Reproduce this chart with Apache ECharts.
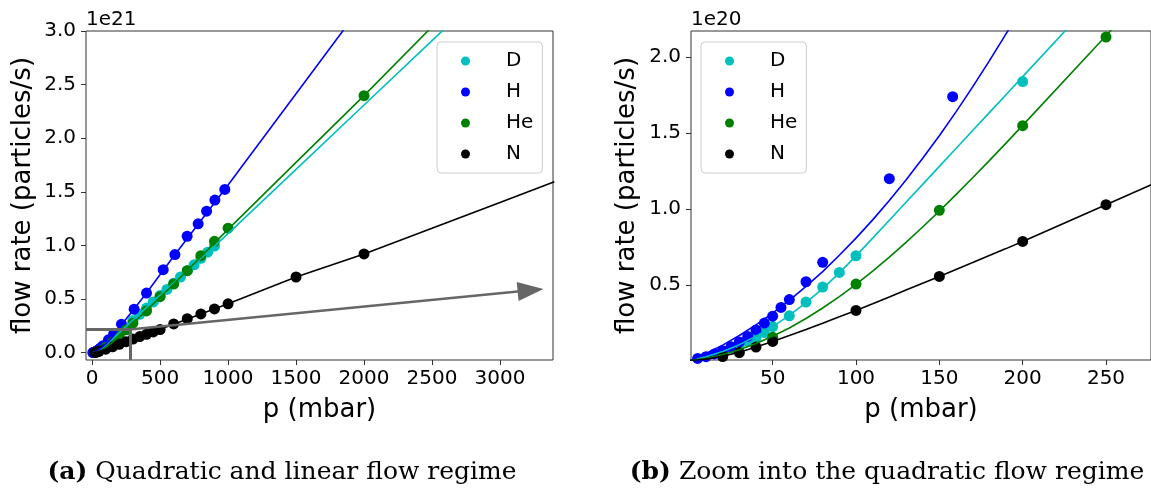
<!DOCTYPE html>
<html>
<head>
<meta charset="utf-8">
<style>
  html, body { margin: 0; padding: 0; background: #ffffff; }
  #chart { width: 1151px; height: 494px; }
</style>
<script src="https://cdn.jsdelivr.net/npm/echarts@6/dist/echarts.min.js"></script>
</head>
<body>
<div id="chart"></div>
<script>
// all flow rates below are in units of 1e20 particles/s, pressures in mbar
const FONT = 'DejaVu Sans';
const gases = ['D', 'H', 'He', 'N'];
const gasColors = ['#00bfbf', '#0000ff', '#008000', '#000000'];

// measured points
const pD = [20, 25, 30, 35, 40, 45, 50, 60, 70, 80, 90, 100, 200, 300, 350, 400, 450, 500, 550, 600, 650, 700, 750, 800, 850, 900];
const flowD = [0.061, 0.082, 0.104, 0.128, 0.149, 0.186, 0.225, 0.296, 0.386, 0.485, 0.581, 0.691, 1.837, 3.0, 3.58, 4.16, 4.74, 5.33, 5.9, 6.48, 7.06, 7.65, 8.2, 8.8, 9.37, 9.95];

const pH = [5, 10, 15, 20, 25, 30, 35, 40, 45, 50, 55, 60, 70, 80, 120, 158, 216, 309, 400, 523, 609, 699, 780, 842, 903, 976];
const flowH = [0.015, 0.027, 0.045, 0.066, 0.092, 0.124, 0.16, 0.203, 0.248, 0.293, 0.351, 0.403, 0.52, 0.648, 1.198, 1.738, 2.66, 4.06, 5.56, 7.74, 9.15, 10.86, 12.02, 13.2, 14.23, 15.23];

const pHe = [50, 100, 150, 200, 250, 300, 400, 500, 600, 700, 800, 900, 1000, 2000];
const flowHe = [0.155, 0.505, 0.99, 1.547, 2.13, 2.75, 3.9, 5.22, 6.4, 7.65, 9.05, 10.39, 11.61, 23.97];

const pN = [20, 30, 40, 50, 100, 150, 200, 250, 300, 350, 400, 450, 500, 600, 700, 800, 900, 1000, 1500, 2000];
const flowN = [0.028, 0.054, 0.09, 0.127, 0.331, 0.555, 0.785, 1.027, 1.27, 1.5, 1.72, 1.94, 2.16, 2.68, 3.17, 3.62, 4.08, 4.56, 7.06, 9.21];

// fitted curves
const fitP = [0, 10, 20, 30, 40, 50, 60, 70, 80, 90, 100, 110, 120, 130, 140, 150, 160, 170, 180, 190, 200,
    250, 300, 400, 600, 1000, 1500, 2000, 2500, 3000, 3400];
const fitD = [0, 0.026, 0.061, 0.106, 0.161, 0.225, 0.299, 0.382, 0.475, 0.578, 0.69, 0.807, 0.925, 1.043, 1.161,
    1.279, 1.397, 1.515, 1.633, 1.751, 1.87, 2.46, 3.05, 4.22, 6.52, 11.1, 17.1, 23.1, 29.1, 35.1, 39.9];
const fitH = [0, 0.048, 0.103, 0.166, 0.236, 0.313, 0.397, 0.489, 0.587, 0.694, 0.807, 0.927, 1.055, 1.19, 1.332,
    1.481, 1.638, 1.802, 1.973, 2.151, 2.33, 3.14, 3.93, 5.56, 9.0, 15.64, 24.15, 32.66, 41.2, 49.7, 56.5];
const fitHe = [0, 0.017, 0.041, 0.073, 0.113, 0.161, 0.216, 0.278, 0.347, 0.422, 0.503, 0.59, 0.682, 0.779, 0.88,
    0.985, 1.093, 1.204, 1.317, 1.432, 1.549, 2.139, 2.734, 3.95, 6.4, 11.5, 17.75, 23.97, 30.4, 36.9, 42.1];
const fitN = [0, 0.011, 0.03, 0.056, 0.09, 0.127, 0.166, 0.206, 0.247, 0.289, 0.331, 0.375, 0.42, 0.465, 0.51,
    0.555, 0.601, 0.646, 0.692, 0.738, 0.785, 1.027, 1.27, 1.73, 2.65, 4.56, 7.06, 9.21, 11.6, 14.0, 15.95];

// tick labels
const ticksAx = [0, 500, 1000, 1500, 2000, 2500, 3000];
const ticksAy = [0, 0.5, 1.0, 1.5, 2.0, 2.5, 3.0];
const ticksBx = [50, 100, 150, 200, 250];
const ticksBy = [0.5, 1.0, 1.5, 2.0];

// zoom window of (b) and the arrow pointing to it, in (a)'s units
const zoomCorner = [277, 0.217];
const arrowEnd = [3225, 0.583];

const points = [[pD, flowD], [pH, flowH], [pHe, flowHe], [pN, flowN]];
const fits = [fitD, fitH, fitHe, fitN];

const pairs = (xs, ys, scale) => xs.map((x, i) => [x, ys[i] / scale]);

const series = [];
[10, 1].forEach((scale, g) => {
    gases.forEach((gas, i) => {
        series.push({
            name: gas,
            type: 'scatter',
            xAxisIndex: g,
            yAxisIndex: g,
            data: pairs(points[i][0], points[i][1], scale),
            symbol: 'circle',
            symbolSize: 11,
            itemStyle: {color: gasColors[i], opacity: 1},
            clip: true,
            silent: true,
        });
        series.push({
            name: gas + ' fit',
            type: 'line',
            xAxisIndex: g,
            yAxisIndex: g,
            data: pairs(fitP, fits[i], scale),
            showSymbol: false,
            smooth: false,
            lineStyle: {color: gasColors[i], width: 1.6},
            clip: true,
            silent: true,
        });
    });
});

// zoom rectangle + arrow on plot (a)
series.push({
    type: 'line',
    xAxisIndex: 0,
    yAxisIndex: 0,
    data: [],
    silent: true,
    markLine: {
        silent: true,
        animation: false,
        symbol: ['none', 'none'],
        label: {show: false},
        lineStyle: {color: '#666666', width: 3, type: 'solid'},
        data: [
            [{coord: [-45, zoomCorner[1]]}, {coord: zoomCorner}],
            [{coord: zoomCorner}, {coord: [zoomCorner[0], -0.068]}],
            [{coord: zoomCorner, symbol: 'none'},
             {coord: arrowEnd, symbol: 'triangle', symbolSize: [19, 26], lineStyle: {width: 2.5}}],
        ],
    },
});

function xAxis(grid, min, max, ticks) {
    return {
        type: 'value', gridIndex: grid, min: min, max: max,
        name: 'p (mbar)', nameLocation: 'middle', nameGap: 37,
        nameTextStyle: {fontFamily: FONT, fontSize: 26, color: '#000'},
        axisLine: {show: false, onZero: false},
        axisTick: {show: true, length: 5, customValues: ticks, lineStyle: {color: '#333', width: 1}},
        axisLabel: {customValues: ticks, margin: 9, fontFamily: FONT, fontSize: 20, color: '#000',
            formatter: v => String(v)},
        splitLine: {show: false},
    };
}

function yAxis(grid, min, max, ticks, gap) {
    return {
        type: 'value', gridIndex: grid, min: min, max: max,
        name: 'flow rate (particles/s)', nameLocation: 'middle', nameGap: gap,
        nameTextStyle: {fontFamily: FONT, fontSize: 26, color: '#000'},
        axisLine: {show: false, onZero: false},
        axisTick: {show: true, length: 5, customValues: ticks, lineStyle: {color: '#333', width: 1}},
        axisLabel: {customValues: ticks, margin: 10, fontFamily: FONT, fontSize: 20, color: '#000',
            formatter: v => v.toFixed(1)},
        splitLine: {show: false},
    };
}

function legend(left, top) {
    return {
        data: gases, left: left, top: top, orient: 'vertical',
        icon: 'circle', itemWidth: 9, itemHeight: 9, itemGap: 11,
        padding: [9, 9, 9, 24],
        backgroundColor: 'rgba(255,255,255,0.8)', borderColor: '#cccccc', borderWidth: 1, borderRadius: 4,
        selectedMode: false,
        textStyle: {fontFamily: FONT, fontSize: 20, color: '#000', lineHeight: 20, padding: [0, 0, 0, 31]},
    };
}

const gridStyle = {show: true, borderColor: '#333333', borderWidth: 1, backgroundColor: '#ffffff'};

const captionRich = {b: {fontWeight: 'bold', fontFamily: 'DejaVu Serif', fontSize: 25}};

const option = {
    animation: false,
    backgroundColor: '#ffffff',
    textStyle: {fontFamily: FONT},
    grid: [
        Object.assign({left: 86, top: 31, width: 467, height: 329}, gridStyle),
        Object.assign({left: 691, top: 31, width: 460, height: 329}, gridStyle),
    ],
    xAxis: [xAxis(0, -45, 3390, ticksAx), xAxis(1, 1, 277, ticksBx)],
    yAxis: [yAxis(0, -0.068, 3.0, ticksAy, 50), yAxis(1, 0.005, 2.17, ticksBy, 51)],
    legend: [legend(437, 42), legend(701, 42)],
    graphic: [
        {type: 'text', x: 86, y: 20, style: {text: '1e21', font: '20px ' + FONT, fill: '#000', verticalAlign: 'middle'}},
        {type: 'text', x: 691, y: 20, style: {text: '1e20', font: '20px ' + FONT, fill: '#000', verticalAlign: 'middle'}},
        {type: 'text', x: 282, y: 472, style: {
            text: '{b|(a)} Quadratic and linear flow regime',
            font: '25px DejaVu Serif', fill: '#000', align: 'center', verticalAlign: 'middle', rich: captionRich}},
        {type: 'text', x: 887, y: 472, style: {
            text: '{b|(b)} Zoom into the quadratic flow regime',
            font: '25px DejaVu Serif', fill: '#000', align: 'center', verticalAlign: 'middle', rich: captionRich}},
    ],
    series: series,
};

const chart = echarts.init(document.getElementById('chart'));
chart.setOption(option);
</script>
</body>
</html>
